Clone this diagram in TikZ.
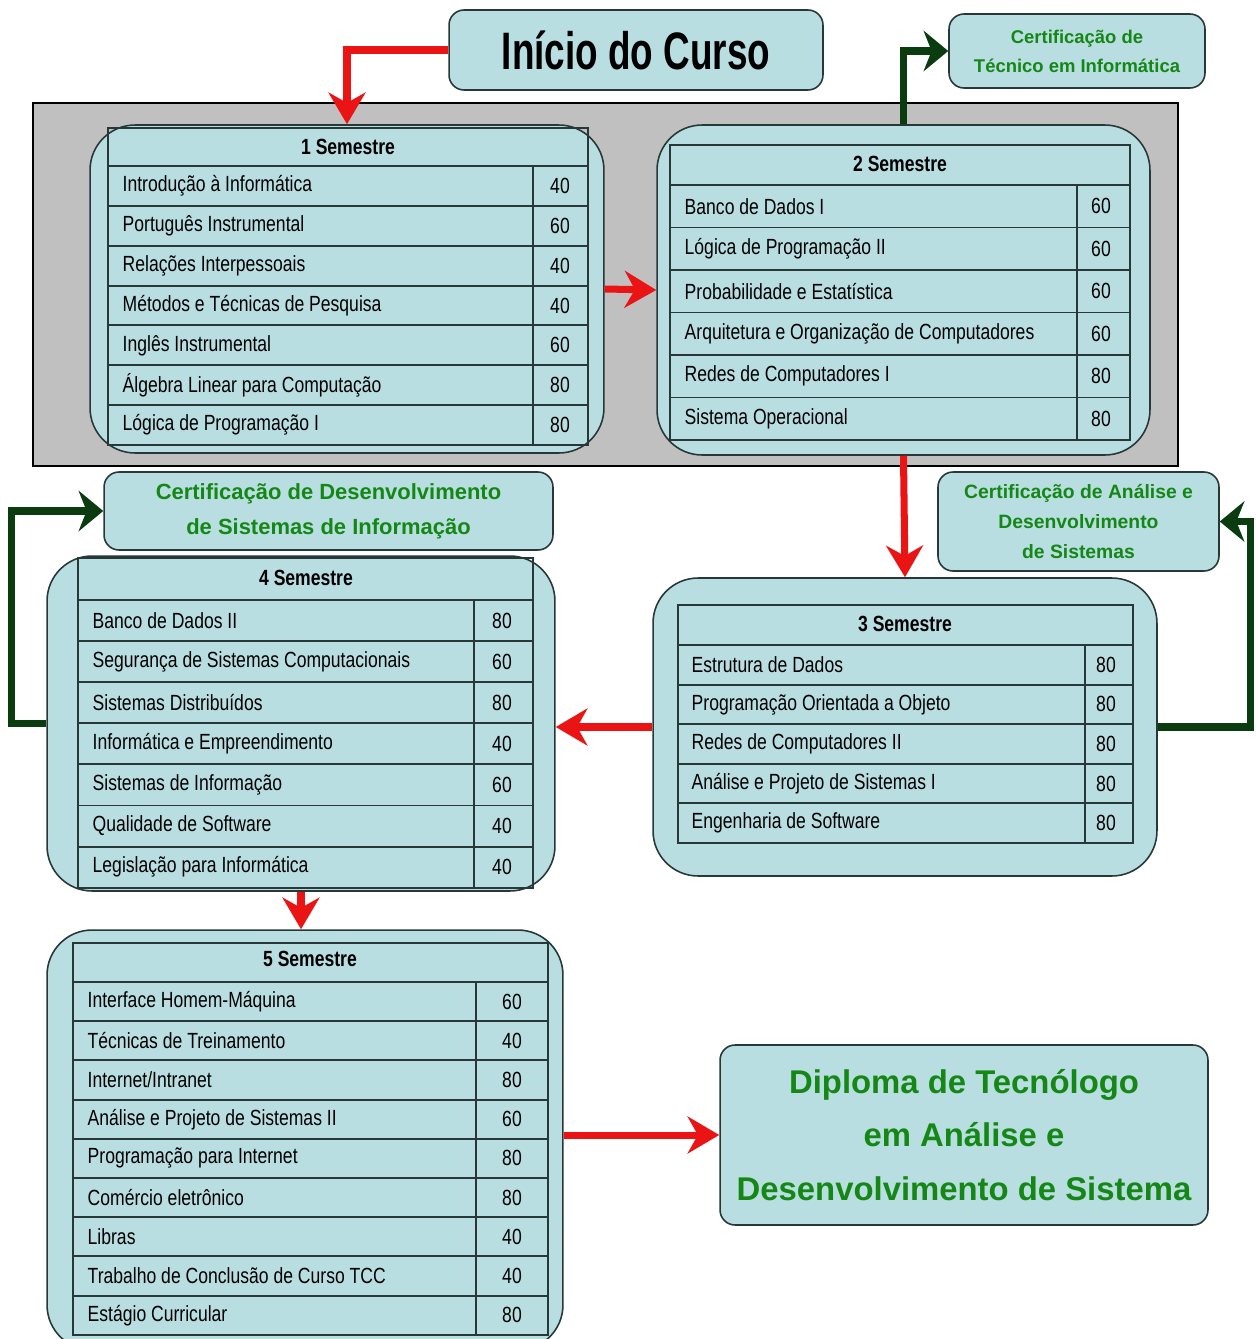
\documentclass[tikz,border=0pt]{standalone}
\usepackage{fontspec}
\setmainfont{Liberation Sans}
\newfontfamily\estreita{Liberation Sans}[FakeStretch=0.8]
\newfontfamily\titulo{Liberation Sans}[FakeStretch=0.7]
\usepackage{xcolor}
\usetikzlibrary{shapes,arrows.meta,positioning,calc}

\definecolor{caixa}{RGB}{185,222,226}
\definecolor{fundo}{RGB}{192,192,192}
\definecolor{seta}{RGB}{235,20,20}
\definecolor{verdeescuro}{RGB}{10,60,15}
\definecolor{verdetexto}{RGB}{20,135,20}
\definecolor{linha}{RGB}{40,55,55}

\begin{document}
\begin{tikzpicture}[
    x=0.02cm, y=-0.02cm,
    thick,
    sembox/.style={rectangle, draw=linha, fill=caixa, rounded corners=0.9cm, line width=0.9pt},
    certbox/.style={rectangle, draw=linha, fill=caixa, rounded corners=0.3cm, line width=0.9pt, align=center, text=verdetexto, font=\bfseries},
    grade/.style={draw=linha, line width=1.1pt},
    disc/.style={anchor=west, inner sep=0pt, font=\estreita\fontsize{12.5}{15}\selectfont},
    horas/.style={inner sep=0pt, font=\estreita\fontsize{12.5}{15}\selectfont},
    cabeca/.style={inner sep=0pt, font=\estreita\bfseries\fontsize{12.5}{15}\selectfont},
    setavermelha/.style={->, draw=seta, line width=4pt, >={Stealth[length=18pt,width=21pt]}},
    setaverde/.style={->, draw=verdeescuro, line width=4pt, >={Stealth[length=14pt,width=23pt]}}
]
\useasboundingbox (0,0) rectangle (1255,1339);

% Fundo cinza
\draw[draw=black, fill=fundo, line width=0.9pt] (33,103) rectangle (1178,466);

% Inicio e certificacoes
\node[rectangle, draw=linha, fill=caixa, rounded corners=0.3cm, line width=0.9pt, minimum width=7.48cm, minimum height=1.6cm, font=\titulo\bfseries\fontsize{30}{36}\selectfont] (inicio) at (636,50) {Início do Curso};
\node[certbox, minimum width=5.12cm, minimum height=1.48cm, font=\bfseries\fontsize{10.5}{16.4}\selectfont] (certtec) at (1077,51) {Certificação de\\Técnico em Informática};
\node[certbox, minimum width=5.62cm, minimum height=1.98cm, font=\bfseries\fontsize{11}{17}\selectfont] (certads) at (1078.5,521.5) {Certificação de Análise e\\Desenvolvimento\\de Sistemas};
\node[certbox, minimum width=8.98cm, minimum height=1.56cm, font=\bfseries\fontsize{12.5}{20}\selectfont] (certsis) at (328.5,511) {Certificação de Desenvolvimento\\de Sistemas de Informação};
\node[certbox, minimum width=9.76cm, minimum height=3.6cm, font=\bfseries\fontsize{18.7}{30.6}\selectfont] (diploma) at (964,1135) {Diploma de Tecnólogo\\em Análise e\\Desenvolvimento de Sistema};

% 1 Semestre
\node[sembox, minimum width=10.28cm, minimum height=6.56cm] (sem1) at (347,289) {};
\draw[grade] (108,128) rectangle (588,445);
\draw[grade] (533,166) -- (533,445);
\node[cabeca] (cab1) at (348,147) {1 Semestre};
\foreach \materia/\carga [count=\i] in {Introdução à Informática/40, Português Instrumental/60,
    Relações Interpessoais/40, Métodos e Técnicas de Pesquisa/40, Inglês Instrumental/60,
    Álgebra Linear para Computação/80, Lógica de Programação I/80}{
  \pgfmathsetmacro\ytop{166+39.86*(\i-1)}
  \pgfmathsetmacro\ymid{\ytop+19.93}
  \draw[grade] (108,\ytop) -- (588,\ytop);
  \node[disc] (d1-\i) at (122,\ymid) {\materia};
  \node[horas] (h1-\i) at (560,\ymid) {\carga};
}

% 2 Semestre
\node[sembox, minimum width=9.86cm, minimum height=6.6cm] (sem2) at (903.5,290) {};
\draw[grade] (670,145) rectangle (1130,440);
\draw[grade] (1077,185) -- (1077,440);
\node[cabeca] (cab2) at (900,164) {2 Semestre};
\foreach \materia/\carga [count=\i] in {Banco de Dados I/60, Lógica de Programação II/60,
    Probabilidade e Estatística/60, Arquitetura e Organização  de Computadores/60,
    Redes de Computadores I/80, Sistema Operacional/80}{
  \pgfmathsetmacro\ytop{185+42.5*(\i-1)}
  \pgfmathsetmacro\ymid{\ytop+21.25}
  \draw[grade] (670,\ytop) -- (1130,\ytop);
  \node[disc] (d2-\i) at (684,\ymid) {\materia};
  \node[horas] (h2-\i) at (1101,\ymid) {\carga};
}

% 3 Semestre
\node[sembox, minimum width=10.08cm, minimum height=5.96cm] (sem3) at (905,727) {};
\draw[grade] (678,605) rectangle (1133,843);
\draw[grade] (1085,645) -- (1085,843);
\node[cabeca] (cab3) at (905,624) {3 Semestre};
\foreach \materia/\carga [count=\i] in {Estrutura de Dados/80, Programação Orientada a Objeto/80,
    Redes de Computadores II/80, Análise e Projeto de Sistemas I/80, Engenharia de Software/80}{
  \pgfmathsetmacro\ytop{645+39.6*(\i-1)}
  \pgfmathsetmacro\ymid{\ytop+19.8}
  \draw[grade] (678,\ytop) -- (1133,\ytop);
  \node[disc] (d3-\i) at (691,\ymid) {\materia};
  \node[horas] (h3-\i) at (1106,\ymid) {\carga};
}

% 4 Semestre
\node[sembox, minimum width=10.16cm, minimum height=6.7cm] (sem4) at (301,723.5) {};
\draw[grade] (78,558) rectangle (533,888);
\draw[grade] (474,600) -- (474,888);
\node[cabeca] (cab4) at (306,578) {4 Semestre};
\foreach \materia/\carga [count=\i] in {Banco de Dados II/80, Segurança de Sistemas Computacionais/60,
    Sistemas Distribuídos/80, Informática e Empreendimento/40, Sistemas de Informação/60,
    Qualidade de Software/40, Legislação para Informática/40}{
  \pgfmathsetmacro\ytop{600+41.1*(\i-1)}
  \pgfmathsetmacro\ymid{\ytop+20.55}
  \draw[grade] (78,\ytop) -- (533,\ytop);
  \node[disc] (d4-\i) at (92,\ymid) {\materia};
  \node[horas] (h4-\i) at (502,\ymid) {\carga};
}

% 5 Semestre
\node[sembox, minimum width=10.32cm, minimum height=8.4cm] (sem5) at (305,1140) {};
\draw[grade] (73,943) rectangle (548,1335);
\draw[grade] (476,982) -- (476,1335);
\node[cabeca] (cab5) at (310,959) {5 Semestre};
\foreach \materia/\carga [count=\i] in {Interface Homem-Máquina/60, Técnicas de Treinamento/40,
    {Internet/Intranet}/80, Análise e Projeto de Sistemas II/60, Programação para Internet/80,
    Comércio eletrônico/80, Libras/40, Trabalho de Conclusão de Curso TCC/40, Estágio Curricular/80}{
  \pgfmathsetmacro\ytop{982+39.2*(\i-1)}
  \pgfmathsetmacro\ymid{\ytop+19.6}
  \draw[grade] (73,\ytop) -- (548,\ytop);
  \node[disc] (d5-\i) at (87,\ymid) {\materia};
  \node[horas] (h5-\i) at (512,\ymid) {\carga};
}

% Conexoes
\draw[setavermelha] (inicio.west) -| (sem1.north);
\draw[setavermelha] (sem1.east) -- (sem2.west);
\draw[setavermelha] (sem2.south) -- (sem3.north);
\draw[setavermelha] (sem3.west) -- (sem3.west -| sem4.east);
\draw[setavermelha] (sem4.south) -- (sem4.south |- sem5.north);
\draw[setavermelha] (diploma.west -| sem5.east) -- (diploma.west);
\draw[setaverde] (sem2.north) |- (certtec.west);
\draw[setaverde] (sem3.east) -- ++(93,0) |- (certads.east);
\draw[setaverde] (sem4.west) -- ++(-35,0) |- (certsis.west);

\end{tikzpicture}
\end{document}
